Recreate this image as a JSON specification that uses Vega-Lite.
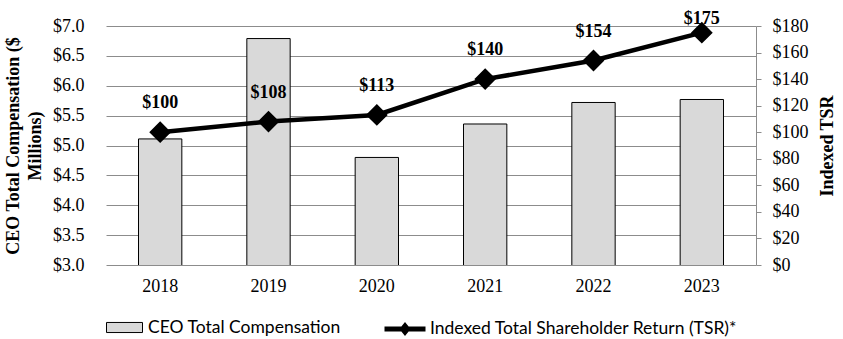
{
  "$schema": "https://vega.github.io/schema/vega-lite/v6.json",
  "width": 650,
  "height": 239,
  "autosize": "none",
  "padding": {"left": 106, "top": 26, "right": 87, "bottom": 74},
  "background": "white",
  "data": {
    "values": [
      {"year": "2018", "comp": 5.11, "tsr": 100, "label": "$100", "s1": "CEO Total Compensation", "s2": "Indexed Total Shareholder Return (TSR)*"},
      {"year": "2019", "comp": 6.79, "tsr": 108, "label": "$108", "s1": "CEO Total Compensation", "s2": "Indexed Total Shareholder Return (TSR)*"},
      {"year": "2020", "comp": 4.80, "tsr": 113, "label": "$113", "s1": "CEO Total Compensation", "s2": "Indexed Total Shareholder Return (TSR)*"},
      {"year": "2021", "comp": 5.36, "tsr": 140, "label": "$140", "s1": "CEO Total Compensation", "s2": "Indexed Total Shareholder Return (TSR)*"},
      {"year": "2022", "comp": 5.72, "tsr": 154, "label": "$154", "s1": "CEO Total Compensation", "s2": "Indexed Total Shareholder Return (TSR)*"},
      {"year": "2023", "comp": 5.77, "tsr": 175, "label": "$175", "s1": "CEO Total Compensation", "s2": "Indexed Total Shareholder Return (TSR)*"}
    ]
  },
  "encoding": {
    "x": {
      "field": "year", "type": "ordinal",
      "scale": {"paddingInner": 0.6, "paddingOuter": 0.3},
      "axis": {"title": null, "labelAngle": 0, "domain": false, "ticks": false, "labelPadding": 12, "labelFont": "Liberation Serif", "labelFontSize": 18, "labelColor": "black"}
    }
  },
  "layer": [
    {
      "mark": {"type": "bar", "stroke": "black", "strokeWidth": 1, "clip": true},
      "encoding": {
        "y": {
          "field": "comp", "type": "quantitative",
          "scale": {"domain": [3, 7], "zero": false, "nice": false},
          "axis": {
            "title": ["CEO Total Compensation ($", "Millions)"],
            "titleFont": "Liberation Serif", "titleFontSize": 18, "titleFontWeight": "bold", "titleColor": "black",
            "titleLineHeight": 22, "titlePadding": 8,
            "values": [3, 3.5, 4, 4.5, 5, 5.5, 6, 6.5, 7],
            "labelExpr": "'$' + format(datum.value, '.1f')",
            "labelFont": "Liberation Serif", "labelFontSize": 18, "labelColor": "black", "labelPadding": 22,
            "domain": false, "ticks": false,
            "grid": true, "gridColor": "#8c8c8c", "gridWidth": 1
          }
        },
        "fill": {
          "field": "s1", "type": "nominal",
          "scale": {"range": ["#d9d9d9"]},
          "legend": {
            "title": null, "orient": "none", "legendX": 0, "legendY": 283,
            "symbolType": "M-1,-0.28H1V0.28H-1Z", "symbolSize": 1296, "symbolStrokeColor": "black", "symbolStrokeWidth": 1,
            "labelFont": "Lato", "labelFontSize": 17.5, "labelColor": "black", "labelOffset": 5, "labelLimit": 0
          }
        }
      }
    },
    {
      "mark": {"type": "line", "strokeWidth": 4.5, "color": "black"},
      "encoding": {
        "y": {"field": "tsr", "type": "quantitative", "scale": {"domain": [0, 180], "nice": false}, "axis": null}
      }
    },
    {
      "mark": {"type": "point", "shape": "diamond", "filled": true, "size": 360, "opacity": 1},
      "encoding": {
        "y": {
          "field": "tsr", "type": "quantitative",
          "scale": {"domain": [0, 180], "nice": false},
          "axis": {
            "orient": "right", "title": "Indexed TSR", "titleAngle": -90, "titleBaseline": "top",
            "titleFont": "Liberation Serif", "titleFontSize": 18, "titleFontWeight": "bold", "titleColor": "black", "titlePadding": 10,
            "values": [0, 20, 40, 60, 80, 100, 120, 140, 160, 180],
            "labelExpr": "'$' + datum.value",
            "labelFont": "Liberation Serif", "labelFontSize": 18, "labelColor": "black", "labelPadding": 11,
            "domain": true, "domainColor": "#8c8c8c", "ticks": true, "tickColor": "#8c8c8c", "tickSize": 5, "grid": false
          }
        },
        "stroke": {
          "field": "s2", "type": "nominal",
          "scale": {"range": ["black"]},
          "legend": {
            "title": null, "orient": "none", "legendX": 276, "legendY": 280,
            "symbolType": "M-1,0H1M-0.12,0L0,-0.15L0.12,0L0,0.15Z", "symbolSize": 1681, "symbolFillColor": "black", "symbolStrokeColor": "black", "symbolStrokeWidth": 5,
            "labelFont": "Lato", "labelFontSize": 17.5, "labelColor": "black", "labelOffset": 2, "labelLimit": 0
          }
        },
        "fill": {"value": "black"}
      }
    },
    {
      "transform": [{"filter": "datum.year != '2023'"}],
      "mark": {"type": "text", "dy": -29, "font": "Liberation Serif", "fontSize": 18, "fontWeight": "bold", "color": "black"},
      "encoding": {
        "y": {"field": "tsr", "type": "quantitative", "scale": {"domain": [0, 180], "nice": false}, "axis": null},
        "text": {"field": "label"}
      }
    },
    {
      "transform": [{"filter": "datum.year == '2023'"}],
      "mark": {"type": "text", "dy": -14, "font": "Liberation Serif", "fontSize": 18, "fontWeight": "bold", "color": "black"},
      "encoding": {
        "y": {"field": "tsr", "type": "quantitative", "scale": {"domain": [0, 180], "nice": false}, "axis": null},
        "text": {"field": "label"}
      }
    }
  ],
  "resolve": {"scale": {"y": "independent"}},
  "config": {"view": {"stroke": null}}
}
